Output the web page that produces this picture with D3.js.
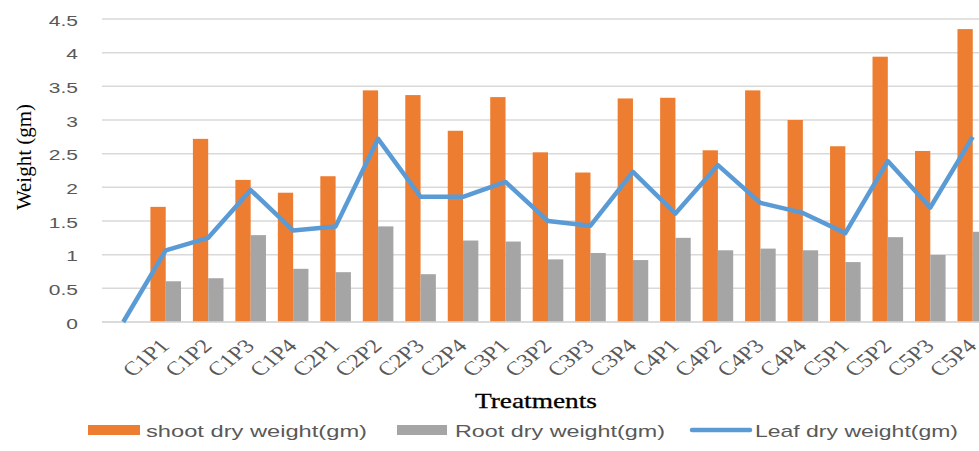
<!DOCTYPE html>
<html>
<head>
<meta charset="utf-8">
<script src="https://cdn.jsdelivr.net/npm/d3@7"></script>
<style>
  html, body { margin: 0; padding: 0; background: #fff; }
  svg { display: block; }
</style>
</head>
<body>
<div id="chart"></div>
<script>
// Chart data (first category is an empty slot where the leaf line starts at 0)
const categories = ["", "C1P1", "C1P2", "C1P3", "C1P4", "C2P1", "C2P2", "C2P3", "C2P4", "C3P1", "C3P2",
  "C3P3", "C3P4", "C4P1", "C4P2", "C4P3", "C4P4", "C5P1", "C5P2", "C5P3", "C5P4"];
const shootDry = [null, 1.71, 2.72, 2.11, 1.92, 2.165, 3.44, 3.37, 2.84, 3.34, 2.52,
  2.22, 3.32, 3.33, 2.55, 3.44, 3.0, 2.61, 3.94, 2.54, 4.35];
const rootDry = [null, 0.605, 0.65, 1.29, 0.79, 0.74, 1.42, 0.71, 1.21, 1.195, 0.93,
  1.025, 0.92, 1.25, 1.065, 1.09, 1.065, 0.89, 1.26, 0.995, 1.34];
const leafDry = [0, 1.065, 1.25, 1.96, 1.36, 1.42, 2.72, 1.86, 1.86, 2.08, 1.5,
  1.43, 2.23, 1.61, 2.33, 1.77, 1.62, 1.32, 2.39, 1.7, 2.75];
const yTicks = [0, 0.5, 1, 1.5, 2, 2.5, 3, 3.5, 4, 4.5];
const seriesNames = ["shoot dry weight(gm)", "Root dry weight(gm)", "Leaf dry weight(gm)"];

const W = 979, H = 451;
const colors = { shoot: "#ED7D31", root: "#A5A5A5", leaf: "#5B9BD5" };

let svg = d3.select("#chart").append("svg").attr("width", W).attr("height", H);

// Scales
let x = d3.scaleBand().domain(d3.range(categories.length)).range([102, 994]).paddingInner(0.28).paddingOuter(0.14);
let x1 = d3.scaleBand().domain(["shoot", "root"]).range([0, x.bandwidth()]);
let y = d3.scaleLinear().domain([0, 4.5]).range([322, 19]);

// Gridlines
svg.append("g").selectAll("line").data(yTicks).enter().append("line")
  .attr("x1", 102).attr("x2", W).attr("y1", d => y(d)).attr("y2", d => y(d))
  .attr("stroke", "#d9d9d9").attr("stroke-width", 1.5);

// Y axis labels
let yAxis = svg.append("g").attr("transform", "translate(102,0)")
  .call(d3.axisLeft(y).tickValues(yTicks).tickSize(0).tickPadding(24).tickFormat(d => d));
yAxis.select(".domain").remove();
yAxis.selectAll("text")
  .attr("x", null).attr("dy", null)
  .attr("transform", "translate(-24,6) scale(1.4,1)")
  .attr("fill", "#595959").style("font-family", "'Liberation Sans', Arial, sans-serif").style("font-size", "15px");

// Bars
let groups = svg.append("g").selectAll("g").data(categories).enter().append("g")
  .attr("transform", (d, i) => "translate(" + x(i) + ",0)");
groups.filter((d, i) => shootDry[i] != null).append("rect")
  .attr("x", x1("shoot")).attr("width", x1.bandwidth())
  .attr("y", (d) => y(shootDry[categories.indexOf(d)]))
  .attr("height", (d) => y(0) - y(shootDry[categories.indexOf(d)]))
  .attr("fill", colors.shoot);
groups.filter((d, i) => rootDry[i] != null).append("rect")
  .attr("x", x1("root")).attr("width", x1.bandwidth())
  .attr("y", (d) => y(rootDry[categories.indexOf(d)]))
  .attr("height", (d) => y(0) - y(rootDry[categories.indexOf(d)]))
  .attr("fill", colors.root);

// Baseline
svg.append("line").attr("x1", 102).attr("x2", W).attr("y1", y(0)).attr("y2", y(0))
  .attr("stroke", "#d9d9d9").attr("stroke-width", 1.5);

// Leaf line
let line = d3.line().x((d, i) => x(i) + x.bandwidth() / 2).y(d => y(d));
svg.append("path").datum(leafDry).attr("d", line)
  .attr("fill", "none").attr("stroke", colors.leaf).attr("stroke-width", 4.5).attr("stroke-linejoin", "round");

// X axis labels
let xAxis = svg.append("g").attr("transform", "translate(0," + y(0) + ")")
  .call(d3.axisBottom(x).tickSize(0).tickFormat(i => categories[i]));
xAxis.select(".domain").remove();
xAxis.selectAll("text")
  .attr("y", null).attr("dy", null).attr("text-anchor", "end")
  .attr("transform", "translate(5,25) scale(1.25,1) rotate(-45)")
  .attr("fill", "#595959").style("font-family", "'Liberation Serif', 'Times New Roman', serif").style("font-size", "19.5px");

// Axis titles
svg.append("text").text("Weight (gm)")
  .attr("transform", "translate(31,157) rotate(-90)").attr("text-anchor", "middle")
  .style("font-family", "'Liberation Serif', 'Times New Roman', serif").style("font-size", "21px").attr("fill", "#000");
svg.append("text").text("Treatments")
  .attr("x", 475).attr("y", 408).attr("textLength", 122).attr("lengthAdjust", "spacingAndGlyphs")
  .style("font-family", "'Liberation Serif', 'Times New Roman', serif").style("font-size", "21px").attr("fill", "#000")
  .attr("stroke", "#000").attr("stroke-width", 0.3);

// Legend
let legend = [
  { name: seriesNames[0], color: colors.shoot, type: "rect", sx: 88, sw: 52, tx: 146, tw: 221 },
  { name: seriesNames[1], color: colors.root, type: "rect", sx: 397, sw: 50, tx: 455, tw: 210 },
  { name: seriesNames[2], color: colors.leaf, type: "line", sx: 692, sw: 58, tx: 755, tw: 203 }
];
legend.forEach((l) => {
  if (l.type == "rect") svg.append("rect").attr("x", l.sx).attr("y", 425).attr("width", l.sw).attr("height", 10).attr("fill", l.color);
  else svg.append("line").attr("x1", l.sx).attr("x2", l.sx + l.sw).attr("y1", 430).attr("y2", 430).attr("stroke", l.color).attr("stroke-width", 4.5).attr("stroke-linecap", "round");
  svg.append("text").text(l.name).attr("x", l.tx).attr("y", 437)
    .attr("textLength", l.tw).attr("lengthAdjust", "spacingAndGlyphs")
    .style("font-family", "'Liberation Sans', Arial, sans-serif").style("font-size", "17px").attr("fill", "#595959");
});
</script>
</body>
</html>
